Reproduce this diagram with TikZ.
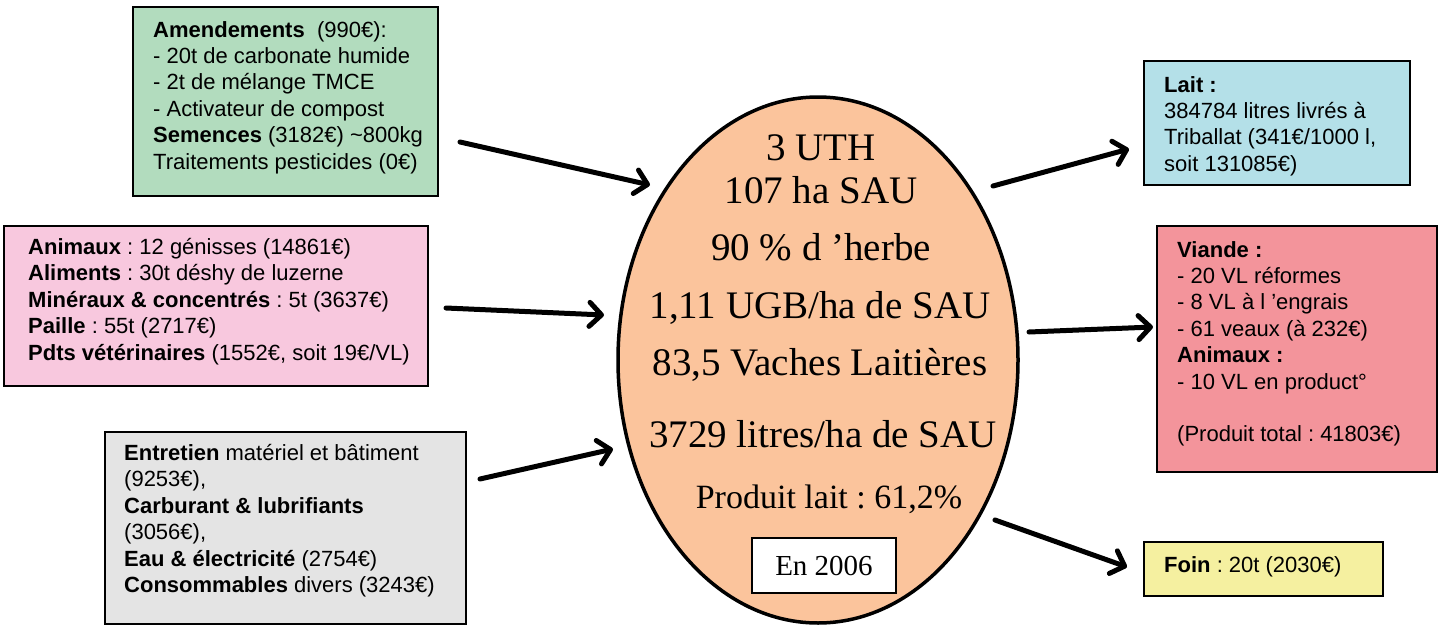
\documentclass[tikz,border=0pt]{standalone}
\usepackage{fontspec}
\setmainfont{Liberation Serif}
\newfontfamily\arial{Liberation Sans}
\usetikzlibrary{arrows.meta,shapes.geometric}
\definecolor{cgreen}{RGB}{178,220,190}
\definecolor{cpink}{RGB}{248,200,222}
\definecolor{cgray}{RGB}{228,228,228}
\definecolor{cblue}{RGB}{180,224,232}
\definecolor{cred}{RGB}{243,148,155}
\definecolor{cyellow}{RGB}{245,240,160}
\definecolor{corange}{RGB}{251,196,156}
\frenchspacing
\begin{document}
\begin{tikzpicture}[x=1pt,y=-1pt,
  box/.style={draw=black,line width=2pt,inner sep=0pt},
  txt/.style={anchor=north west,inner sep=0pt,align=left,font=\arial\fontsize{22}{26.4}\selectfont},
  big/.style={anchor=base,inner sep=0pt,font=\fontsize{39}{45}\selectfont},
  arr/.style={line width=5pt,line cap=round,line join=round,-{Straight Barb[length=12pt,width=24pt,line cap=round,line join=round]}}]
\useasboundingbox (0,0) rectangle (1444,635);
% input boxes
\node[box,fill=cgreen,minimum width=305pt,minimum height=189pt] (green) at (285.5,101.5) {};
\node[txt] (greent) at (153,21) {\textbf{Amendements}~ (990€):\\- 20t de carbonate humide\\- 2t de mélange TMCE\\- Activateur de compost\\\textbf{Semences} (3182€) \textasciitilde800kg\\Traitements pesticides (0€)};
\node[box,fill=cpink,minimum width=424pt,minimum height=160pt] (pink) at (216,306) {};
\node[txt] (pinkt) at (28,238) {\textbf{Animaux} : 12 génisses (14861€)\\\textbf{Aliments} : 30t déshy de luzerne\\\textbf{Minéraux \& concentrés} : 5t (3637€)\\\textbf{Paille} : 55t (2717€)\\\textbf{Pdts vétérinaires} (1552€, soit 19€/VL)};
\node[box,fill=cgray,minimum width=361pt,minimum height=192pt] (gray) at (285.5,528) {};
\node[txt] (grayt) at (124,444) {\textbf{Entretien} matériel et bâtiment\\(9253€),\\\textbf{Carburant \& lubrifiants}\\(3056€),\\\textbf{Eau \& électricité} (2754€)\\\textbf{Consommables} divers (3243€)};
% output boxes
\node[box,fill=cblue,minimum width=266pt,minimum height=124pt] (lait) at (1277,123) {};
\node[txt] (laitt) at (1164,76) {\textbf{Lait :}\\384784 litres livrés à\\Triballat (341€/1000 l,\\soit 131085€)};
\node[box,fill=cred,minimum width=280pt,minimum height=246pt] (viande) at (1297,349) {};
\node[txt] (viandet) at (1177,241) {\textbf{Viande :}\\- 20 VL réformes\\- 8 VL à l ’engrais\\- 61 veaux (à 232€)\\\textbf{Animaux :}\\- 10 VL en product°\\[26.4pt](Produit total : 41803€)};
\node[box,fill=cyellow,minimum width=239pt,minimum height=54pt] (foin) at (1263.5,569) {};
\node[txt] (foint) at (1164,556) {\textbf{Foin} : 20t (2030€)};
% ellipse
\node[ellipse,draw=black,line width=3.5pt,fill=corange,minimum width=400pt,minimum height=526pt,inner sep=0pt] (ell) at (818,360) {};
\node[big] (l1) at (821,160) {3 UTH};
\node[big] (l2) at (821,203) {107 ha SAU};
\node[big] (l3) at (821,260) {90 \% d ’herbe};
\node[big] (l4) at (820,318) {1,11 UGB/ha de SAU};
\node[big] (l5) at (820,375) {83,5 Vaches Laitières};
\node[big] (l6) at (823,447) {3729 litres/ha de SAU};
\node[anchor=base,inner sep=0pt,font=\fontsize{34}{40}\selectfont] (l7) at (829,508) {Produit lait : 61,2\%};
\node[draw=black,line width=1.5pt,fill=white,minimum width=144pt,minimum height=55pt,inner sep=0pt] (yearbox) at (824,565.5) {};
\node[anchor=base,inner sep=0pt,font=\fontsize{29}{34}\selectfont] (year) at (824,575) {En 2006};
% arrows
\coordinate (a1s) at (460,142); \coordinate (a1e) at (650,185);
\coordinate (a2s) at (446,308); \coordinate (a2e) at (604,315);
\coordinate (a3s) at (480,479); \coordinate (a3e) at (613,449);
\coordinate (a4s) at (993,186); \coordinate (a4e) at (1129,149);
\coordinate (a5s) at (1029,332); \coordinate (a5e) at (1153,327);
\coordinate (a6s) at (995,520); \coordinate (a6e) at (1127,567);
\draw[arr] (a1s) -- (a1e);
\draw[arr] (a2s) -- (a2e);
\draw[arr] (a3s) -- (a3e);
\draw[arr] (a4s) -- (a4e);
\draw[arr] (a5s) -- (a5e);
\draw[arr] (a6s) -- (a6e);
\end{tikzpicture}
\end{document}
